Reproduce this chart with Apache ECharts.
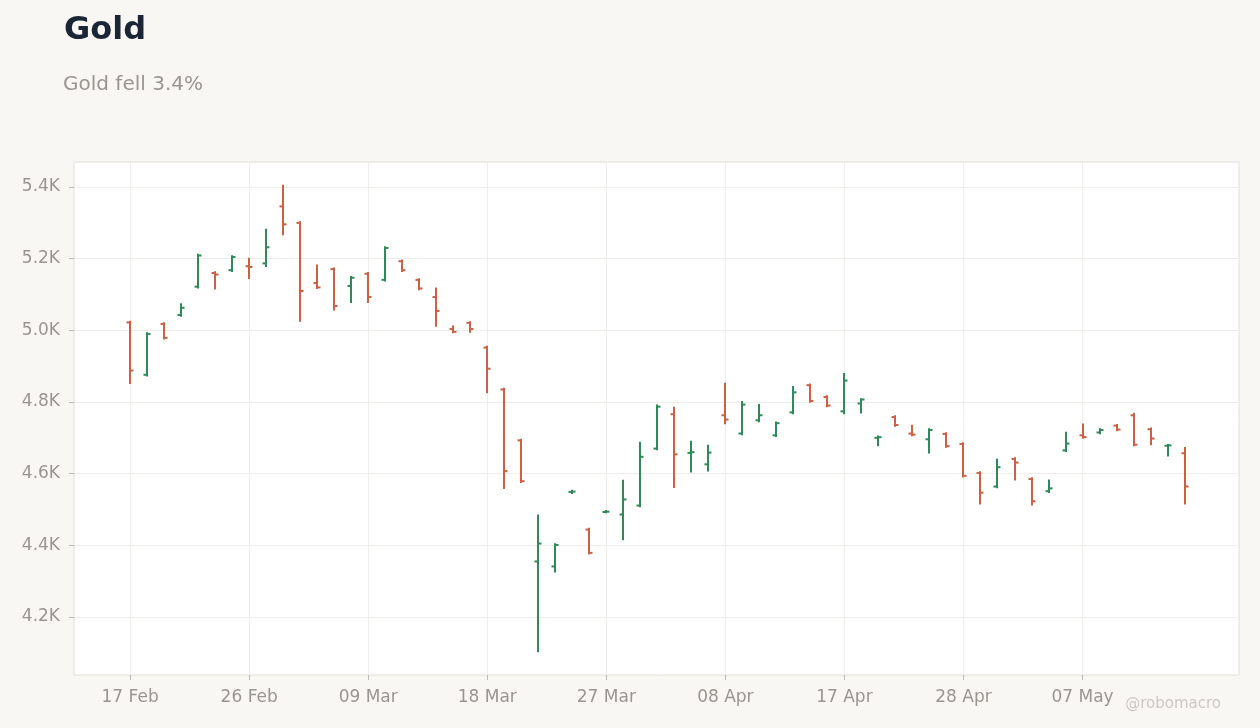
<!DOCTYPE html>
<html lang="en">
<head>
    <meta charset="UTF-8">
    <title>Gold</title>
    <script src="https://fastly.jsdelivr.net/npm/echarts@6/dist/echarts.min.js"></script>
    <style>
        body { margin: 0; background: #f8f7f4; }
    </style>
</head>
<body>
    <div id="dv" style="width:1260px;height:728px;"></div>
</body>
<script>
   var dates = ['17 Feb','18 Feb','19 Feb','20 Feb','23 Feb','24 Feb','25 Feb','26 Feb','27 Feb',
       '02 Mar','03 Mar','04 Mar','05 Mar','06 Mar','09 Mar','10 Mar','11 Mar','12 Mar','13 Mar',
       '16 Mar','17 Mar','18 Mar','19 Mar','20 Mar','23 Mar','24 Mar','25 Mar','26 Mar','27 Mar',
       '30 Mar','31 Mar','01 Apr','02 Apr','06 Apr','07 Apr','08 Apr','09 Apr','10 Apr',
       '13 Apr','14 Apr','15 Apr','16 Apr','17 Apr','20 Apr','21 Apr','22 Apr','23 Apr','24 Apr',
       '27 Apr','28 Apr','29 Apr','30 Apr','01 May','04 May','05 May','06 May','07 May','08 May',
       '11 May','12 May','13 May','14 May','15 May']
   var open  = [5022,4876,5018,5043,5122,5160,5168,5179,5187,5346,5300,5132,5171,5124,5158,5141,
       5193,5141,5093,5004,5021,4952,4835,4693,4355,4341,4549,4444,4493,4486,4511,4670,4766,4658,
       4626,4763,4712,4749,4707,4771,4847,4814,4774,4796,4700,4758,4712,4696,4711,4683,4602,4564,
       4641,4585,4551,4665,4707,4715,4734,4763,4724,4678,4657]
   var high  = [5024,4992,5020,5073,5211,5162,5207,5200,5281,5404,5302,5181,5173,5149,5160,5232,
       5195,5143,5117,5011,5023,4954,4837,4695,4483,4403,4552,4446,4496,4580,4686,4790,4784,4689,
       4678,4851,4800,4792,4743,4842,4849,4816,4878,4808,4704,4760,4734,4724,4713,4685,4604,4639,
       4643,4587,4581,4714,4737,4724,4736,4767,4726,4680,4672]
   var low   = [4853,4874,4977,5041,5120,5117,5166,5146,5180,5268,5027,5118,5058,5079,5079,5139,
       5166,5115,5013,4995,4996,4827,4560,4577,4104,4327,4546,4377,4492,4417,4509,4668,4563,4606,
       4609,4741,4710,4746,4705,4769,4801,4788,4769,4771,4679,4734,4707,4659,4675,4592,4517,4562,
       4584,4514,4549,4663,4700,4713,4721,4679,4682,4651,4517]
   var close = [4888,4990,4979,5063,5209,5156,5205,5177,5232,5296,5110,5120,5068,5147,5093,5230,
       5168,5117,5054,4996,5004,4893,4607,4579,4405,4401,4550,4379,4494,4528,4647,4787,4654,4660,
       4659,4751,4793,4763,4741,4827,4803,4790,4860,4807,4702,4736,4709,4722,4677,4594,4547,4618,
       4631,4523,4559,4684,4702,4722,4723,4681,4698,4679,4564]
   var xTicks = [0, 7, 14, 21, 28, 35, 42, 49, 56]
   var yTicks = [4200, 4400, 4600, 4800, 5000, 5200, 5400]

   var up = '#2e8b57'
   var down = '#cd6040'
   var labelColor = '#9a958f'

   var data = dates.map((d, i) => [i, open[i], high[i], low[i], close[i]])

   function renderItem(params, api) {
       var i = api.value(0)
       var o = api.coord([i, api.value(1)])
       var h = api.coord([i, api.value(2)])
       var l = api.coord([i, api.value(3)])
       var c = api.coord([i, api.value(4)])
       var color = api.value(4) >= api.value(1) ? up : down
       var x = Math.round(o[0])
       var st = { stroke: color, lineWidth: 2 }
       return {
           type: 'group',
           children: [
               { type: 'line', shape: { x1: x, y1: h[1] - 1, x2: x, y2: l[1] + 1 }, style: st },
               { type: 'line', shape: { x1: x - 3.5, y1: o[1], x2: x, y2: o[1] }, style: st },
               { type: 'line', shape: { x1: x, y1: c[1], x2: x + 3.5, y2: c[1] }, style: st }
           ]
       }
   }

   var myChart = echarts.init(document.getElementById('dv'))
   var option = {
       backgroundColor: '#f8f7f4',
       animation: false,
       title: [{
           text: 'Gold',
           left: 64,
           top: 15,
           padding: 0,
           textStyle: { fontFamily: 'DejaVu Sans', fontSize: 32, fontWeight: 'bold', color: '#1b2535' }
       }, {
           text: 'Gold fell 3.4%',
           left: 63,
           top: 75,
           padding: 0,
           textStyle: { fontFamily: 'DejaVu Sans', fontSize: 20, fontWeight: 'normal', color: '#9a958f' }
       }, {
           text: '@robomacro',
           right: 39,
           top: 697,
           padding: 0,
           textStyle: { fontFamily: 'DejaVu Sans', fontSize: 15, fontWeight: 'normal', color: '#ccc8c2' }
       }],
       grid: {
           left: 74,
           right: 21,
           top: 162,
           bottom: 53,
           show: true,
           backgroundColor: '#ffffff',
           borderColor: '#e2ded7',
           borderWidth: 1
       },
       xAxis: {
           type: 'value',
           min: -3.3,
           max: 65.2,
           axisLine: { show: false, onZero: false },
           axisTick: { show: true, length: 5, lineStyle: { color: '#bdb9b3' }, customValues: xTicks },
           axisLabel: {
               customValues: xTicks,
               margin: 14,
               fontFamily: 'DejaVu Sans',
               fontSize: 17,
               color: labelColor,
               formatter: v => dates[v]
           },
           splitLine: { show: true, lineStyle: { color: '#f0eeeb' } }
       },
       yAxis: {
           type: 'value',
           min: 4038,
           max: 5470,
           axisLine: { show: false, onZero: false },
           axisTick: { show: true, length: 5, lineStyle: { color: '#bdb9b3' }, customValues: yTicks },
           axisLabel: {
               customValues: yTicks,
               margin: 14,
               fontFamily: 'DejaVu Sans',
               fontSize: 17,
               color: labelColor,
               formatter: v => (v / 1000).toFixed(1) + 'K'
           },
           splitLine: { show: true, lineStyle: { color: '#f0eeeb' } }
       },
       series: [{
           type: 'custom',
           renderItem: renderItem,
           encode: { x: 0, y: [1, 2, 3, 4] },
           data: data
       }]
   }
   myChart.setOption(option)
</script>
</html>
